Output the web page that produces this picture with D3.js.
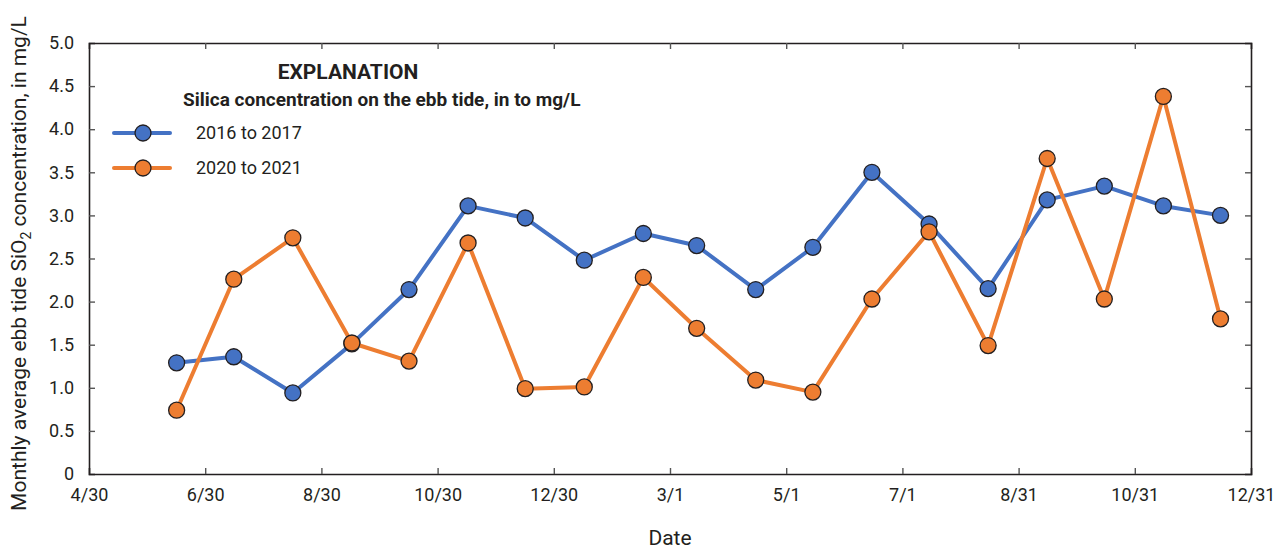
<!DOCTYPE html>
<html>
<head>
<meta charset="utf-8">
<script src="https://cdn.jsdelivr.net/npm/d3@7"></script>
<style>
  html, body { margin: 0; padding: 0; background: #fff; }
  svg text { font-family: "Liberation Sans Narrow", "Roboto", sans-serif; fill: #231f20; }
</style>
</head>
<body>
<svg id="chart" width="1277" height="552"></svg>
<script>
// Monthly averages, sampled mid-month from June through the following December
const months = ["2016-06-15","2016-07-15","2016-08-15","2016-09-15","2016-10-15","2016-11-15","2016-12-15",
  "2017-01-15","2017-02-15","2017-03-15","2017-04-15","2017-05-15","2017-06-15","2017-07-15","2017-08-15",
  "2017-09-15","2017-10-15","2017-11-15","2017-12-15"];
const silica2016 = [1.29, 1.36, 0.94, 1.51, 2.14, 3.11, 2.97, 2.48, 2.79, 2.65, 2.14, 2.63, 3.50, 2.90, 2.15, 3.18, 3.34, 3.11, 3.00];
const silica2020 = [0.74, 2.26, 2.74, 1.52, 1.31, 2.68, 0.99, 1.01, 2.28, 1.69, 1.09, 0.95, 2.03, 2.81, 1.49, 3.66, 2.03, 4.38, 1.80];
const seriesNames = ["2016 to 2017", "2020 to 2021"];
const seriesColors = ["#4472c4", "#ed7d31"];
const xTickDates = ["2016-04-30","2016-06-30","2016-08-30","2016-10-30","2016-12-30","2017-03-01",
  "2017-05-01","2017-07-01","2017-08-31","2017-10-31","2017-12-31"];
const yTicks = [0, 0.5, 1.0, 1.5, 2.0, 2.5, 3.0, 3.5, 4.0, 4.5, 5.0];

const parse = d3.utcParse("%Y-%m-%d");
const dates = months.map(parse);
const tickDates = xTickDates.map(parse);

const svg = d3.select("#chart");
const m = { left: 89, right: 1251, top: 43, bottom: 474 };

const x = d3.scaleUtc().domain([tickDates[0], tickDates[tickDates.length - 1]]).range([m.left, m.right]);
const y = d3.scaleLinear().domain([0, 5]).range([m.bottom, m.top]);

const axisColor = "#231f20";
const tickLen = 6;
const fmtX = d3.utcFormat("%-m/%-d");
const fmtY = d => d === 0 ? "0" : d3.format(".1f")(d);

// Bottom axis with inward ticks
const gx = svg.append("g").attr("transform", `translate(0,${m.bottom})`)
  .call(d3.axisBottom(x).tickValues(tickDates).tickFormat(fmtX).tickSize(-tickLen).tickPadding(14));
// Top axis: ticks only
const gxt = svg.append("g").attr("transform", `translate(0,${m.top})`)
  .call(d3.axisTop(x).tickValues(tickDates).tickFormat("").tickSize(-tickLen));
// Left axis with inward ticks
const gy = svg.append("g").attr("transform", `translate(${m.left},0)`)
  .call(d3.axisLeft(y).tickValues(yTicks).tickFormat(fmtY).tickSize(-tickLen).tickPadding(15));
// Right axis: ticks only
const gyr = svg.append("g").attr("transform", `translate(${m.right},0)`)
  .call(d3.axisRight(y).tickValues(yTicks).tickFormat("").tickSize(-tickLen));

[gx, gxt, gy, gyr].forEach(g => {
  g.select(".domain").attr("stroke", axisColor).attr("stroke-width", 1.6);
  g.selectAll(".tick line").attr("stroke", "#555").attr("stroke-width", 1.4);
  g.selectAll(".tick text").attr("font-size", 18).style("fill", axisColor)
    .attr("font-family", "'Liberation Sans Narrow', Roboto, sans-serif");
});
// hide end ticks that coincide with the frame
gx.selectAll(".tick line").filter((d, i) => i === 0 || i === tickDates.length - 1).remove();
gxt.selectAll(".tick line").filter((d, i) => i === 0 || i === tickDates.length - 1).remove();
gy.selectAll(".tick line").filter((d, i) => i === 0 || i === yTicks.length - 1).remove();
gyr.selectAll(".tick line").filter((d, i) => i === 0 || i === yTicks.length - 1).remove();

// Axis titles
svg.append("text").attr("x", (m.left + m.right) / 2).attr("y", 545)
  .attr("text-anchor", "middle").attr("font-size", 21).text("Date");

const yTitle = svg.append("text")
  .attr("transform", `translate(26,${(m.top + m.bottom) / 2 + 5}) rotate(-90)`)
  .attr("text-anchor", "middle").attr("font-size", 21);
yTitle.append("tspan").text("Monthly average ebb tide SiO");
yTitle.append("tspan").attr("font-size", 14).attr("dy", 5).text("2");
yTitle.append("tspan").attr("dy", -5).text(" concentration, in mg/L");

// Series lines and markers
const series = [silica2016, silica2020];
const line = d3.line().x((d, i) => x(dates[i])).y(d => y(d));

series.forEach((vals, si) => {
  const g = svg.append("g");
  g.append("path").datum(vals).attr("d", line)
    .attr("fill", "none").attr("stroke", seriesColors[si]).attr("stroke-width", 4)
    .attr("stroke-linejoin", "round");
  g.selectAll("circle").data(vals).join("circle")
    .attr("cx", (d, i) => x(dates[i])).attr("cy", d => y(d)).attr("r", 8)
    .attr("fill", seriesColors[si]).attr("stroke", "#231f20").attr("stroke-width", 1.3);
});

// Legend
const lg = svg.append("g");
lg.append("text").attr("x", 348).attr("y", 79).attr("text-anchor", "middle")
  .attr("font-size", 21).attr("font-weight", "bold").text("EXPLANATION");
lg.append("text").attr("x", 183).attr("y", 106)
  .attr("font-size", 19).attr("font-weight", "bold").text("Silica concentration on the ebb tide, in to mg/L");
seriesNames.forEach((name, i) => {
  const yy = 133 + i * 35;
  lg.append("line").attr("x1", 114).attr("x2", 170).attr("y1", yy).attr("y2", yy)
    .attr("stroke", seriesColors[i]).attr("stroke-width", 4).attr("stroke-linecap", "round");
  lg.append("circle").attr("cx", 143).attr("cy", yy).attr("r", 8)
    .attr("fill", seriesColors[i]).attr("stroke", "#231f20").attr("stroke-width", 1.3);
  lg.append("text").attr("x", 196).attr("y", yy + 6).attr("font-size", 18).text(name);
});
</script>
</body>
</html>
